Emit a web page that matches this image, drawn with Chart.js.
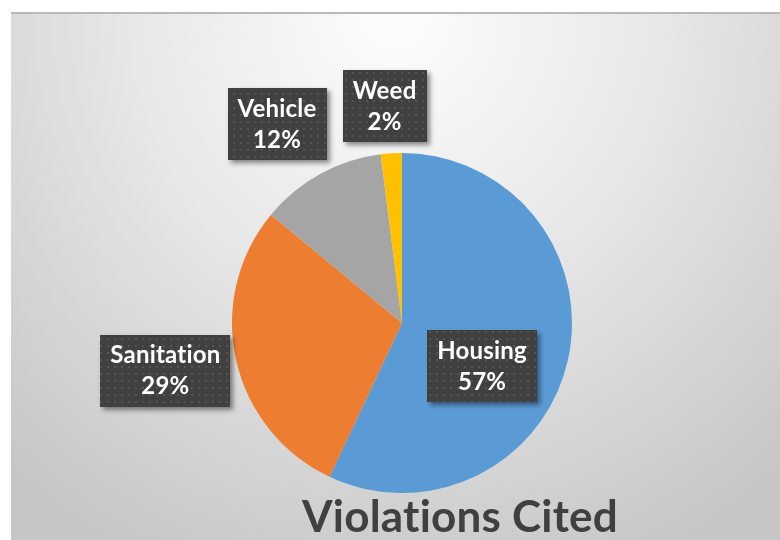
<!DOCTYPE html>
<html>
<head>
<meta charset="utf-8">
<script src="https://cdn.jsdelivr.net/npm/chart.js@4/dist/chart.umd.min.js"></script>
<style>
    body { margin: 0; background: #ffffff; }
    #wrap { position: relative; width: 780px; height: 540px; overflow: hidden; }
    #bg {
        position: absolute; left: 11px; top: 12px; width: 769px; height: 528px;
        background: radial-gradient(ellipse 75% 115% at 50% 0%, #fdfdfd 0%, #e8e8e8 45%, #c6c6c6 100%);
        border-top: 2px solid #b9b9b9;
        box-sizing: border-box;
    }
    canvas { position: absolute; left: 0; top: 0; }
</style>
</head>
<body>
<div id="wrap">
    <div id="bg"></div>
    <canvas id="chart" width="780" height="540"></canvas>
</div>
<script>
const labels = ["Housing", "Sanitation", "Vehicle", "Weed"];
const values = [57, 29, 12, 2];
const sliceColors = ["#5B9BD5", "#ED7D31", "#A5A5A5", "#FFC000"];
const chartTitle = "Violations Cited";

// label box placement: [radius factor, angle nudge in degrees]
const labelPlacement = [[0.535, 15.7], [1.42, 1.2], [1.38, -3.4], [1.28, -1.0]];

function makeDotPattern(ctx) {
    const p = document.createElement("canvas");
    p.width = 7;
    p.height = 7;
    const pc = p.getContext("2d");
    pc.fillStyle = "#404040";
    pc.fillRect(0, 0, 7, 7);
    pc.fillStyle = "#545454";
    pc.fillRect(2, 2, 2, 2);
    return ctx.createPattern(p, "repeat");
}

const labelBoxes = {
    id: "labelBoxes",
    afterDatasetsDraw(chart) {
        const ctx = chart.ctx;
        const meta = chart.getDatasetMeta(0);
        const total = values.reduce((a, b) => a + b, 0);
        const pattern = makeDotPattern(ctx);
        ctx.save();
        ctx.font = "bold 24px Lato, sans-serif";
        ctx.letterSpacing = "0.2px";
        ctx.textAlign = "center";
        ctx.textBaseline = "middle";
        meta.data.forEach((arc, i) => {
            const { x, y, startAngle, endAngle, outerRadius } = arc.getProps(["x", "y", "startAngle", "endAngle", "outerRadius"], true);
            const [f, nudge] = labelPlacement[i];
            const mid = (startAngle + endAngle) / 2 + nudge * Math.PI / 180;
            const cx = x + Math.cos(mid) * outerRadius * f;
            const cy = y + Math.sin(mid) * outerRadius * f;
            const line1 = labels[i];
            const line2 = Math.round(values[i] / total * 100) + "%";
            const w = Math.max(ctx.measureText(line1).width, ctx.measureText(line2).width) + 20;
            const h = 72;
            ctx.save();
            ctx.shadowColor = "rgba(0,0,0,0.45)";
            ctx.shadowBlur = 5;
            ctx.shadowOffsetX = 3;
            ctx.shadowOffsetY = 3;
            ctx.fillStyle = pattern;
            ctx.fillRect(Math.round(cx - w / 2), Math.round(cy - h / 2), Math.round(w), h);
            ctx.restore();
            ctx.fillStyle = "#ffffff";
            ctx.fillText(line1, cx, cy - 15);
            ctx.fillText(line2, cx, cy + 16);
        });
        ctx.restore();
    }
};

const bottomTitle = {
    id: "bottomTitle",
    afterDraw(chart) {
        const ctx = chart.ctx;
        ctx.save();
        ctx.font = "bold 44px Lato, sans-serif";
        ctx.letterSpacing = "0.2px";
        ctx.fillStyle = "#404040";
        ctx.textAlign = "center";
        ctx.textBaseline = "alphabetic";
        ctx.fillText(chartTitle, 460, 532);
        ctx.restore();
    }
};

const graph = new Chart(document.getElementById("chart"), {
    type: "pie",
    data: {
        labels: labels,
        datasets: [
            {
                data: values,
                backgroundColor: sliceColors,
                borderWidth: 0
            }
        ]
    },
    options: {
        responsive: false,
        animation: false,
        layout: {
            padding: { left: 232, right: 208, top: 153, bottom: 47 }
        },
        plugins: {
            legend: { display: false },
            title: { display: false },
            tooltip: { enabled: false }
        }
    },
    plugins: [labelBoxes, bottomTitle]
});
</script>
</body>
</html>
